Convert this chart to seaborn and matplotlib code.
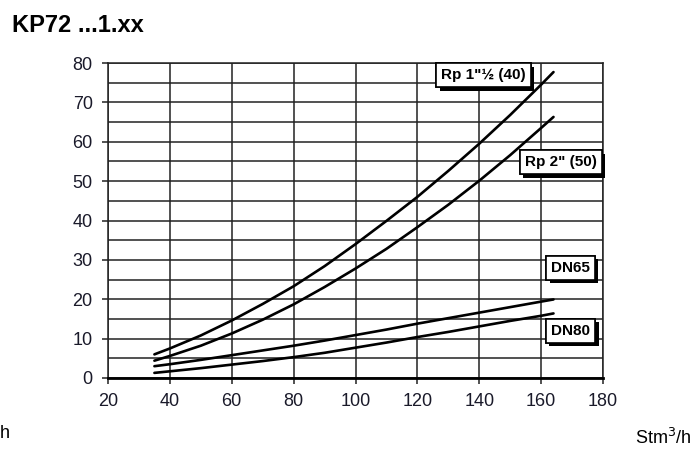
import matplotlib
matplotlib.use("Agg")
import matplotlib.pyplot as plt
import matplotlib.patheffects as pe
from matplotlib.ticker import MultipleLocator
import pandas as pd
import seaborn as sns

# portata (Stm3/h) e perdita di carico
portata = [35, 40, 50, 60, 70, 80, 90, 100, 110, 120, 130, 140, 150, 160, 164]
rp_40 = [6.0, 7.5, 10.8, 14.6, 18.8, 23.3, 28.4, 34.0, 39.9, 46.0, 52.6, 59.5, 66.8, 74.5, 77.7]
rp_50 = [4.4, 5.6, 8.2, 11.3, 14.8, 18.7, 23.1, 27.8, 32.8, 38.3, 44.0, 50.1, 56.6, 63.5, 66.3]
dn_65 = [3.0, 3.5, 4.6, 5.8, 7.0, 8.2, 9.5, 10.9, 12.3, 13.8, 15.2, 16.6, 18.0, 19.4, 19.95]
dn_80 = [1.3, 1.7, 2.5, 3.4, 4.3, 5.3, 6.4, 7.7, 9.0, 10.4, 11.7, 13.1, 14.5, 15.8, 16.4]

serie = ['Rp 1"½ (40)', 'Rp 2" (50)', 'DN65', 'DN80']
etichette_x = [141.4, 166.3, 169.5, 169.5]
etichette_y = [76.9, 54.8, 28.0, 12.0]

righe = []
for nome, valori in zip(serie, [rp_40, rp_50, dn_65, dn_80]):
    for q, dp in zip(portata, valori):
        righe.append({"portata": q, "dp": dp, "serie": nome})
df = pd.DataFrame(righe)

sns.set_theme(style="white")
plt.rcParams['font.family'] = ['Liberation Sans', 'DejaVu Sans']

fig = plt.figure(figsize=(6.96, 4.49), dpi=100)
ax = fig.add_axes([108 / 696, 1 - 378 / 449, 495 / 696, 315 / 449])

sns.lineplot(data=df, x="portata", y="dp", hue="serie", palette=["black"] * 4,
             linewidth=1.9, legend=False, ax=ax, zorder=3)

ax.set_xlim(20, 180)
ax.set_ylim(0, 80)
ax.xaxis.set_major_locator(MultipleLocator(20))
ax.yaxis.set_major_locator(MultipleLocator(10))
ax.yaxis.set_minor_locator(MultipleLocator(5))
ax.grid(True, which="major", axis="x", color="#222222", linewidth=1.1)
ax.grid(True, which="both", axis="y", color="#222222", linewidth=1.1)
ax.tick_params(axis="both", which="major", direction="out", length=4, width=1.1,
               color="#222222", labelsize=13, labelcolor="#1a1a2a", pad=7,
               bottom=True, left=True)
ax.tick_params(axis="y", which="minor", length=0)
ax.set_xlabel("")
ax.set_ylabel("")
for lato in ["top", "right", "left"]:
    ax.spines[lato].set_color("#222222")
    ax.spines[lato].set_linewidth(1.1)
ax.spines["bottom"].set_color("black")
ax.spines["bottom"].set_linewidth(2.0)

for nome, lx, ly in zip(serie, etichette_x, etichette_y):
    t = ax.text(lx, ly, nome, ha="center", va="center", fontsize=11,
                fontweight="bold", color="black", zorder=5, clip_on=False,
                bbox=dict(boxstyle="square,pad=0.33", facecolor="white",
                          edgecolor="black", linewidth=1.2))
    t.get_bbox_patch().set_path_effects([
        pe.withSimplePatchShadow(offset=(2.5, -2.5), shadow_rgbFace="black", alpha=1.0),
        pe.Normal()])

fig.text(12 / 696, 1 - 26 / 449, "KP72 ...1.xx", fontsize=17, fontweight="bold",
         ha="left", va="center", color="black")
fig.text(692 / 696, 1 - 438 / 449, "Stm$^3$/h", fontsize=13, ha="right",
         va="center", color="black")
fig.text(0, 1 - 434 / 449, "h", fontsize=13, ha="left", va="center", color="black")

fig.savefig("out.png", dpi=100)
